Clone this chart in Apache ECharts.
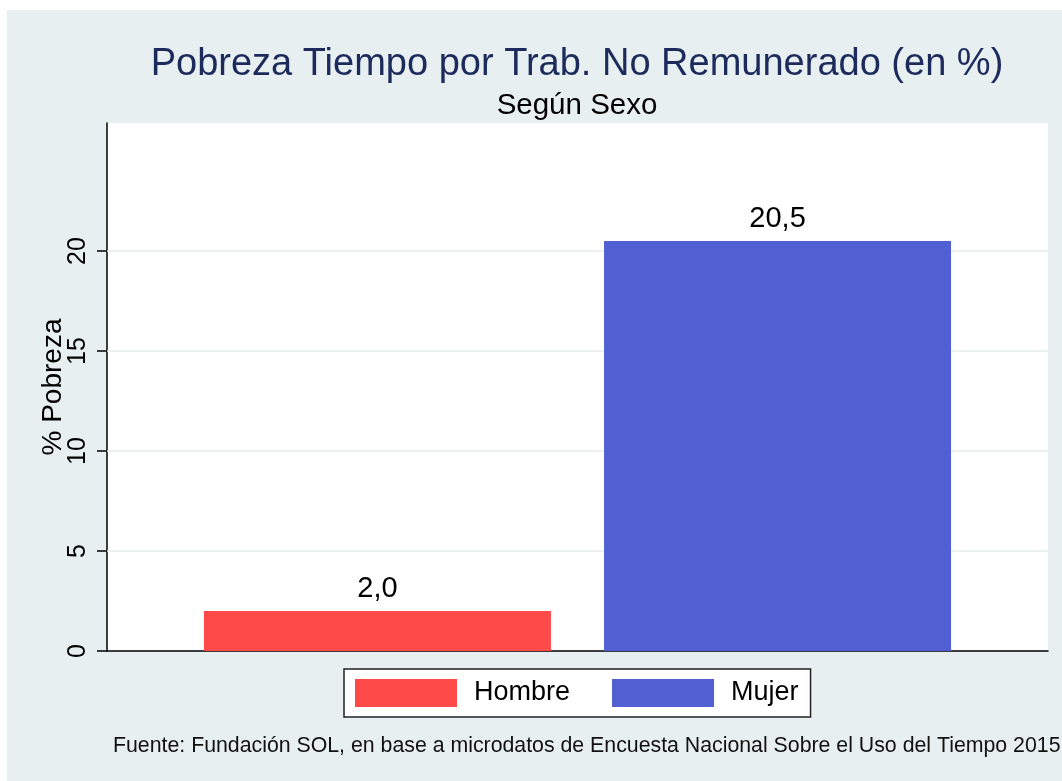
<!DOCTYPE html>
<html>
<head>
<meta charset="utf-8">
<script src="https://cdn.jsdelivr.net/npm/echarts@6/dist/echarts.min.js"></script>
<style>
  html, body { margin: 0; padding: 0; background: #fff; }
  #chart { position: absolute; left: 7px; top: 10px; width: 1055px; height: 771px; }
</style>
</head>
<body>
<div id="chart"></div>
<script>
// data
var categories = ['Sexo'];
var seriesNames = ['Hombre', 'Mujer'];
var hombreValues = [2.0];
var mujerValues = [20.5];
var yTicks = [0, 5, 10, 15, 20];
var gridValues = [5, 10, 15, 20];

var font = "'Liberation Sans', Arial, sans-serif";
var chart = echarts.init(document.getElementById('chart'));

function commaLabel(p) {
  return p.value.toFixed(1).replace('.', ',');
}

var option = {
  backgroundColor: '#e8eff1',
  textStyle: { fontFamily: font },
  title: [
    {
      text: 'Pobreza Tiempo por Trab. No Remunerado (en %)',
      left: 565, top: 31, textAlign: 'center',
      textStyle: { fontFamily: font, fontSize: 38, fontWeight: 'normal', color: '#1c2b5c' }
    },
    {
      text: 'Según Sexo',
      left: 565, top: 76, textAlign: 'center',
      textStyle: { fontFamily: font, fontSize: 29.5, fontWeight: 'normal', color: '#000' }
    },
    {
      text: 'Fuente: Fundación SOL, en base a microdatos de Encuesta Nacional Sobre el Uso del Tiempo 2015',
      left: 101, top: 721,
      textStyle: { fontFamily: font, fontSize: 21.3, fontWeight: 'normal', color: '#111' }
    }
  ],
  grid: {
    left: 100, top: 113, right: 14, bottom: 130,
    show: true, backgroundColor: '#fff', borderWidth: 0
  },
  legend: {
    data: seriesNames,
    left: 337, top: 659,
    orient: 'horizontal',
    icon: 'rect',
    itemWidth: 102, itemHeight: 28, itemGap: 42,
    padding: [10, 12, 10, 11],
    backgroundColor: '#fff',
    borderColor: '#222', borderWidth: 1.5,
    textStyle: { fontFamily: font, fontSize: 27, color: '#000', padding: [6, 0, 0, 12] }
  },
  xAxis: {
    type: 'category',
    data: categories,
    axisLine: { show: true, lineStyle: { color: '#000', width: 1.5 } },
    axisTick: { show: false },
    axisLabel: { show: false },
    splitLine: { show: false }
  },
  yAxis: {
    type: 'value',
    min: 0, max: 26.4, interval: 5,
    name: '% Pobreza',
    nameLocation: 'middle',
    nameRotate: 90,
    nameGap: 40,
    nameMoveOverlap: false,
    nameTextStyle: { fontFamily: font, fontSize: 28, color: '#000' },
    axisLine: { show: true, lineStyle: { color: '#000', width: 1.5 } },
    axisTick: { show: true, length: 10, customValues: yTicks, lineStyle: { color: '#000', width: 1.5 } },
    axisLabel: { rotate: 90, margin: 16, customValues: yTicks, fontFamily: font, fontSize: 25, color: '#000' },
    splitLine: { show: false }
  },
  series: [
    {
      name: seriesNames[0],
      type: 'bar',
      data: hombreValues,
      barWidth: 347,
      barGap: '15.3%',
      itemStyle: { color: '#ff4a4a' },
      label: { show: true, position: 'top', distance: 8, formatter: commaLabel, fontFamily: font, fontSize: 29, color: '#000' },
      markLine: {
        silent: true,
        symbol: 'none',
        label: { show: false },
        lineStyle: { color: '#e6eef1', width: 1.5, type: 'solid' },
        data: gridValues.map(function (v) { return { yAxis: v }; }),
        z: 1
      },
      z: 2
    },
    {
      name: seriesNames[1],
      type: 'bar',
      data: mujerValues,
      barWidth: 347,
      barGap: '15.3%',
      itemStyle: { color: '#5060d2' },
      label: { show: true, position: 'top', distance: 8, formatter: commaLabel, fontFamily: font, fontSize: 29, color: '#000' },
      z: 2
    }
  ]
};

chart.setOption(option);
</script>
</body>
</html>
